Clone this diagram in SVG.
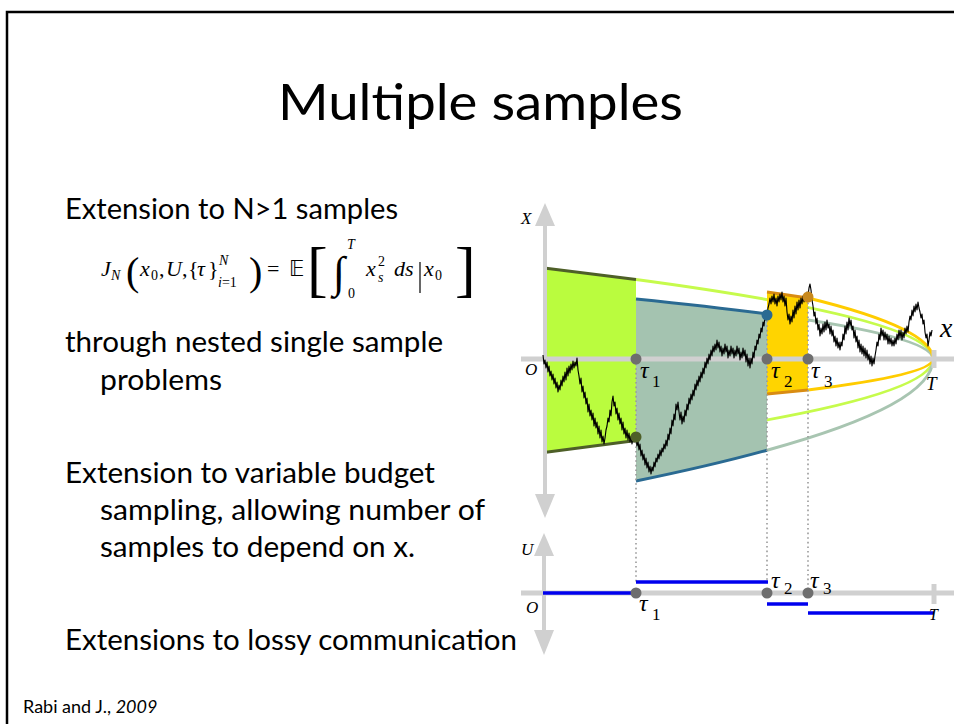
<svg xmlns="http://www.w3.org/2000/svg" width="954" height="724" viewBox="0 0 954 724">
  <style>
    .txt { font-family: Lato, "Open Sans", "Liberation Sans", sans-serif; fill: #000; }
    .body { font-size: 28px; }
    .m { font-family: "Liberation Serif", "DejaVu Serif", serif; font-style: italic; fill: #000; }
    .mr { font-family: "Liberation Serif", "DejaVu Serif", serif; font-style: normal; fill: #000; }
    .axis { stroke: #d0d0d0; fill: none; }
    .axisHead { fill: #d0d0d0; }
    .dots { stroke: #9a9a9a; stroke-width: 1.6; stroke-dasharray: 1.6 3; fill: none; }
    .ctl { stroke: #0000ee; stroke-width: 3.5; fill: none; }
    .pt { fill: #6e6e6e; }
  </style>

  <!-- slide frame -->
  <path d="M7,724 V12 H954" fill="none" stroke="#000" stroke-width="2.5"/>

  <!-- title -->
  <text class="txt" x="278" y="120" font-size="51" textLength="405" lengthAdjust="spacingAndGlyphs">Multiple samples</text>

  <!-- bullet text -->
  <g id="bullets">
    <text class="txt body" x="65" y="219" textLength="333" lengthAdjust="spacingAndGlyphs">Extension to N&gt;1 samples</text>
    <text class="txt body" x="65" y="352" textLength="378" lengthAdjust="spacingAndGlyphs">through nested single sample</text>
    <text class="txt body" x="100" y="390" textLength="122" lengthAdjust="spacingAndGlyphs">problems</text>
    <text class="txt body" x="65" y="483" textLength="370" lengthAdjust="spacingAndGlyphs">Extension to variable budget</text>
    <text class="txt body" x="100" y="520" textLength="385" lengthAdjust="spacingAndGlyphs">sampling, allowing number of</text>
    <text class="txt body" x="100" y="557" textLength="315" lengthAdjust="spacingAndGlyphs">samples to depend on x.</text>
    <text class="txt body" x="65" y="650" textLength="452" lengthAdjust="spacingAndGlyphs">Extensions to lossy communication</text>
  </g>

  <!-- cost functional -->
  <g id="formula">
    <text class="m" x="101" y="276" font-size="22">J</text>
    <text class="m" x="111" y="280" font-size="14">N</text>
    <text class="mr" x="126" y="285" font-size="40">(</text>
    <text class="m" x="140" y="276" font-size="22">x</text>
    <text class="mr" x="151" y="280" font-size="14">0</text>
    <text class="mr" x="159" y="276" font-size="22">,</text>
    <text class="m" x="166" y="276" font-size="22">U</text>
    <text class="mr" x="182" y="276" font-size="22">,</text>
    <text class="mr" x="188" y="276" font-size="22">{</text>
    <text class="m" x="197" y="276" font-size="22">τ</text>
    <text class="mr" x="208" y="276" font-size="22">}</text>
    <text class="m" x="219" y="265" font-size="14">N</text>
    <text class="m" x="218" y="287" font-size="14">i<tspan class="mr">=1</tspan></text>
    <text class="mr" x="249" y="285" font-size="40">)</text>
    <text class="mr" x="267" y="276" font-size="22">=</text>
    <text class="mr" x="289" y="276" font-size="21" style="font-family:'DejaVu Sans',sans-serif">𝔼</text>
    <text class="mr" x="307" y="290" font-size="62">[</text>
    <text class="m" x="333" y="287" font-size="44">∫</text>
    <text class="m" x="347" y="249" font-size="14">T</text>
    <text class="mr" x="348" y="298" font-size="14">0</text>
    <text class="m" x="366" y="276" font-size="22">x</text>
    <text class="mr" x="378" y="266" font-size="14">2</text>
    <text class="m" x="378" y="282" font-size="14">s</text>
    <text class="m" x="394" y="276" font-size="22">ds</text>
    <line x1="420" y1="262" x2="420" y2="293" stroke="#000" stroke-width="1.2"/>
    <text class="m" x="424" y="276" font-size="22">x</text>
    <text class="mr" x="435" y="280" font-size="14">0</text>
    <text class="mr" x="455" y="290" font-size="62">]</text>
  </g>

  <!-- state plot -->
  <g id="state-plot">
    <!-- value boundaries running out to the horizon T -->
    <g id="horizon-curves" fill="none" stroke-width="3">
      <path d="M636,279.5 Q933,319.3 933,359" stroke="#c6fb4c"/>
      <path d="M636,440.5 Q933,399.8 933,359" stroke="#c6fb4c"/>
      <path d="M767,314 Q933,336.5 933,359" stroke="#a8c5b1"/>
      <path d="M767,450.2 Q933,404.6 933,359" stroke="#a8c5b1"/>
      <path d="M808,298 Q933,328.5 933,359" stroke="#ffcc00"/>
      <path d="M808,390 Q933,374.5 933,359" stroke="#ffcc00"/>
    </g>

    <!-- sampling intervals -->
    <g id="interval-1">
      <path d="M544,268 L636,279.5 L636,440.5 L544,452.4 Z" fill="#bafc3e"/>
      <path d="M544,268 L636,279.5 M544,452.4 L636,440.5" stroke="#4e5f28" stroke-width="3" fill="none"/>
    </g>
    <g id="interval-2">
      <path d="M636,298.9 Q710.9,306.4 767,314 L767,450.2 Q711.1,465.6 636,481 Z" fill="#a4c3b0"/>
      <path d="M636,298.9 Q710.9,306.4 767,314 M636,481 Q711.1,465.6 767,450.2" stroke="#2a6a92" stroke-width="3" fill="none"/>
    </g>
    <g id="interval-3">
      <path d="M767,292 L808,298 L808,390 L767,394 Z" fill="#ffd400"/>
      <path d="M767,292 L808,298 M767,394 L808,390" stroke="#d98c12" stroke-width="3" fill="none"/>
    </g>

    <!-- axes -->
    <g id="x-axes">
      <line class="axis" x1="545" y1="222" x2="545" y2="498" stroke-width="4"/>
      <polygon class="axisHead" points="545,203 535,226 555,226"/>
      <polygon class="axisHead" points="545,518 535,494 555,494"/>
      <line class="axis" x1="521" y1="359" x2="954" y2="359" stroke-width="5"/>
      <line class="axis" x1="934" y1="350" x2="934" y2="368" stroke-width="5"/>
    </g>

    <!-- sampling instants -->
    <g id="drop-lines">
      <line class="dots" x1="636" y1="359" x2="636" y2="582"/>
      <line class="dots" x1="767" y1="316" x2="767" y2="582"/>
      <line class="dots" x1="808" y1="298" x2="808" y2="590"/>
    </g>

    <!-- sample path -->
    <polyline id="sample-path" fill="none" stroke="#000" stroke-width="1.15" stroke-linejoin="round" points="543,355 544,364 545,360 546,368 547,362 548,372 549,366 550,376 551,371 552,380 553,374 554,384 555,378 556,388 557,382 558,392 559,385 560,390 561,380 562,386 563,376 564,382 565,372 566,380 567,368 568,376 569,366 570,373 571,364 572,370 573,361 574,368 575,362 576,366 577,358 578,370 579,376 580,384 581,378 582,392 583,386 584,398 585,392 586,404 587,398 588,412 589,404 590,416 591,410 592,420 593,413 594,426 595,418 596,428 597,422 598,434 599,426 600,438 601,430 602,442 603,436 604,444 605,438 606,430 607,426 608,418 609,422 610,410 611,416 612,402 613,396 614,406 615,402 616,414 617,408 618,420 619,413 620,424 621,418 622,430 623,422 624,434 625,428 626,438 627,430 628,440 629,433 630,442 631,436 632,444 633,437 634,442 636,437 637,446 638,441 639,450 640,444 641,456 642,450 643,460 644,454 645,465 646,458 647,468 648,462 649,472 650,466 651,474 652,467 653,471 654,462 655,467 656,458 657,462 658,454 659,459 660,450 661,456 662,448 663,452 664,444 665,449 666,440 667,446 668,434 669,440 670,428 671,434 672,420 673,426 674,414 675,420 676,404 677,410 678,402 679,412 680,420 681,412 682,424 683,416 684,422 685,410 686,416 687,404 688,410 689,398 690,404 691,394 692,400 693,390 694,396 695,384 696,390 697,380 698,386 699,376 700,382 701,372 702,378 703,368 704,374 705,362 706,368 707,358 708,364 709,354 710,360 711,350 712,356 713,346 714,352 715,344 716,350 717,340 718,348 719,342 720,352 721,346 722,356 723,348 724,354 725,344 726,352 727,346 728,358 729,350 730,356 731,346 732,354 733,348 734,358 735,350 736,356 737,346 738,354 739,348 740,360 741,352 742,358 743,348 744,356 745,350 746,362 747,354 748,366 749,358 750,368 751,358 752,364 753,352 754,358 755,346 756,350 757,340 758,344 759,334 760,338 761,328 762,332 763,322 764,326 765,316 766,320 767,315 768,308 769,304 770,298 771,304 772,296 773,302 774,294 775,304 776,298 777,306 778,296 779,302 780,294 781,300 782,292 783,302 784,296 785,306 786,298 787,312 788,320 789,314 790,324 791,316 792,322 793,310 794,318 795,306 796,314 797,302 798,310 799,300 800,308 801,298 802,304 803,296 804,302 805,294 806,300 807,292 808,296 809,288 810,284 811,290 812,300 813,306 814,316 815,312 816,324 817,318 818,330 819,324 820,336 821,328 822,334 823,324 824,332 825,322 826,330 827,320 828,328 829,324 830,334 831,326 832,336 833,330 834,342 835,336 836,346 837,338 838,348 839,342 840,350 841,342 842,346 843,334 844,340 845,326 846,334 847,322 848,330 849,318 850,326 851,320 852,330 853,326 854,338 855,330 856,342 857,336 858,348 859,340 860,352 861,344 862,354 863,346 864,356 865,348 866,358 867,350 868,360 869,354 870,364 871,356 872,366 873,358 874,364 875,356 876,350 877,342 878,346 879,334 880,340 881,328 882,336 883,330 884,340 885,332 886,340 887,334 888,344 889,336 890,344 891,338 892,346 893,340 894,346 895,338 896,344 897,334 898,340 899,330 900,338 901,330 902,340 903,332 904,338 905,328 906,334 907,326 908,332 909,322 910,316 911,320 912,310 913,316 914,306 915,312 916,304 917,310 918,302 919,308 920,312 921,318 922,314 923,324 924,320 925,332 926,338 927,334 928,346 929,340 930,332 931,336 932,330"/>

    <!-- sample markers -->
    <g id="x-markers">
      <circle class="pt" cx="636" cy="359" r="5.5"/>
      <circle class="pt" cx="767" cy="359" r="5.5"/>
      <circle class="pt" cx="808" cy="359" r="5.5"/>
      <circle cx="636" cy="437" r="5.5" fill="#4e5f28"/>
      <circle cx="767" cy="315" r="5.5" fill="#2a6a92"/>
      <circle cx="808" cy="297" r="5.5" fill="#c8891e"/>
    </g>

    <g id="x-labels">
      <text class="m" x="521" y="224" font-size="17">X</text>
      <text class="m" x="525" y="375" font-size="17">O</text>
      <text class="m" x="940" y="337" font-size="28">x</text>
      <text class="m" x="640" y="378" font-size="24">τ</text>
      <text class="mr" x="652" y="387" font-size="17">1</text>
      <text class="m" x="771" y="378" font-size="24">τ</text>
      <text class="mr" x="784" y="387" font-size="17">2</text>
      <text class="m" x="811" y="378" font-size="24">τ</text>
      <text class="mr" x="824" y="387" font-size="17">3</text>
      <text class="m" x="926" y="390" font-size="19">T</text>
    </g>
  </g>

  <!-- control plot -->
  <g id="control-plot">
    <g id="u-axes">
      <line class="axis" x1="544" y1="552" x2="544" y2="633" stroke-width="4"/>
      <polygon class="axisHead" points="544,533 534,556 554,556"/>
      <polygon class="axisHead" points="544,655 534,630 554,630"/>
      <line class="axis" x1="521" y1="593" x2="954" y2="593" stroke-width="5"/>
      <line class="axis" x1="934" y1="584" x2="934" y2="604" stroke-width="5"/>
    </g>
    <g id="control-levels">
      <line class="ctl" x1="543" y1="593" x2="636" y2="593"/>
      <line class="ctl" x1="636" y1="582" x2="768" y2="582"/>
      <line class="ctl" x1="767" y1="604" x2="808" y2="604"/>
      <line class="ctl" x1="808" y1="613" x2="934" y2="613"/>
    </g>
    <g id="u-markers">
      <circle class="pt" cx="636" cy="593" r="5.5"/>
      <circle class="pt" cx="767" cy="593" r="5.5"/>
      <circle class="pt" cx="808" cy="593" r="5.5"/>
    </g>
    <g id="u-labels">
      <text class="m" x="521" y="555" font-size="17">U</text>
      <text class="m" x="526" y="613" font-size="17">O</text>
      <text class="m" x="639" y="611" font-size="24">τ</text>
      <text class="mr" x="652" y="620" font-size="17">1</text>
      <text class="m" x="771" y="588" font-size="24">τ</text>
      <text class="mr" x="784" y="594" font-size="17">2</text>
      <text class="m" x="810" y="588" font-size="24">τ</text>
      <text class="mr" x="823" y="594" font-size="17">3</text>
      <text class="m" x="929" y="620" font-size="16">T</text>
    </g>
  </g>

  <!-- citation -->
  <text class="txt" x="23" y="713" font-size="18">Rabi and J., <tspan font-style="italic">2009</tspan></text>
</svg>
